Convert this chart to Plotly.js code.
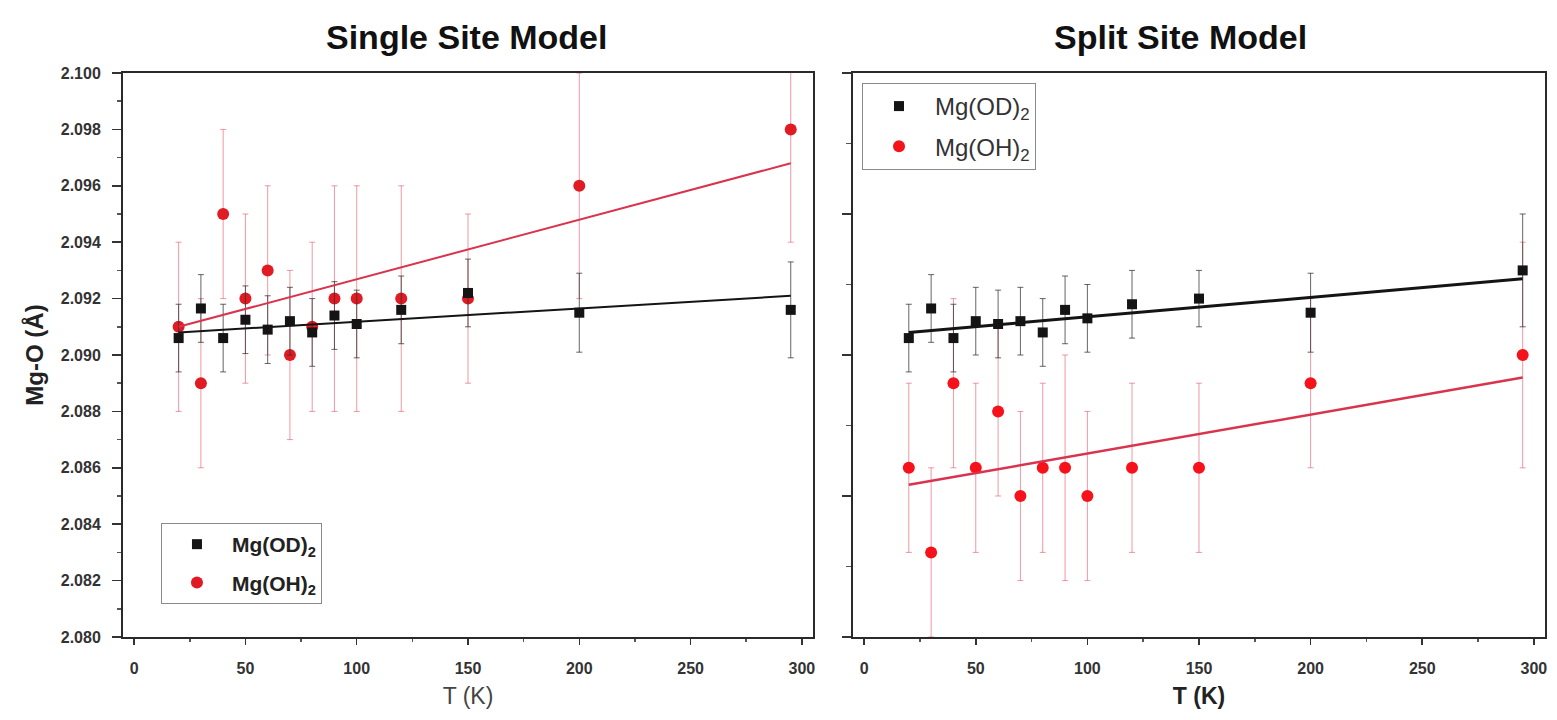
<!DOCTYPE html>
<html><head><meta charset="utf-8">
<script src="https://cdn.plot.ly/plotly-3.0.1.min.js"></script>
<style>html,body{margin:0;padding:0;background:#fff}</style>
</head><body><div id="chart" style="width:1557px;height:720px"></div>
<script>
// ---- data ----
const temperatureK = [20, 30, 40, 50, 60, 70, 80, 90, 100, 120, 150, 200, 295];

// Single Site Model
const singleOD    = [2.0906, 2.09165, 2.0906, 2.09125, 2.0909, 2.0912, 2.0908, 2.0914, 2.0911, 2.0916, 2.0922, 2.0915, 2.0916];
const singleODErr = [0.0012, 0.0012, 0.0012, 0.0012, 0.0012, 0.0012, 0.0012, 0.0012, 0.0012, 0.0012, 0.0012, 0.0014, 0.0017];
const singleOH    = [2.091, 2.089, 2.095, 2.092, 2.093, 2.090, 2.091, 2.092, 2.092, 2.092, 2.092, 2.096, 2.098];
const singleOHErr = [0.003, 0.003, 0.003, 0.003, 0.003, 0.003, 0.003, 0.004, 0.004, 0.004, 0.003, 0.004, 0.004];

// Split Site Model
const splitOD    = [2.0906, 2.09165, 2.0906, 2.0912, 2.0911, 2.0912, 2.0908, 2.0916, 2.0913, 2.0918, 2.0920, 2.0915, 2.0930];
const splitODErr = [0.0012, 0.0012, 0.0012, 0.0012, 0.0012, 0.0012, 0.0012, 0.0012, 0.0012, 0.0012, 0.0010, 0.0014, 0.0020];
const splitOH    = [2.086, 2.083, 2.089, 2.086, 2.088, 2.085, 2.086, 2.086, 2.085, 2.086, 2.086, 2.089, 2.090];
const splitOHErr = [0.003, 0.003, 0.003, 0.003, 0.003, 0.003, 0.003, 0.004, 0.003, 0.003, 0.003, 0.003, 0.004];

// Linear fits (end points)
const fitT          = [20, 295];
const singleODFit   = [2.0908, 2.0921];
const singleOHFit   = [2.0910, 2.0968];
const splitODFit    = [2.0908, 2.0927];
const splitOHFit    = [2.0854, 2.0892];

const xTickVals = [0, 50, 100, 150, 200, 250, 300];
const singleYTicks = [2.080, 2.082, 2.084, 2.086, 2.088, 2.090, 2.092, 2.094, 2.096, 2.098, 2.100];
const seriesNames = ['Mg(OD)<sub>2</sub>', 'Mg(OH)<sub>2</sub>'];
const panelTitles = ['Single Site Model', 'Split Site Model'];

// ---- styling ----
const FONT = 'Liberation Sans, Arial, sans-serif';
const BLACK = '#141414';
const RED_L = '#e01b24';
const RED_R = '#f5121b';
const RED_ERR = 'rgba(222,70,90,0.55)';
const BLK_ERR = 'rgba(50,50,50,0.75)';
const RED_FIT = '#d8344e';

function points(y, err, xa, ya, color, errColor, symbol, size, name, legend, group, rank) {
  return {
    type: 'scatter', mode: 'markers', x: temperatureK, y: y, xaxis: xa, yaxis: ya,
    name: name, legend: legend, legendgroup: group, legendrank: rank,
    marker: {symbol: symbol, size: size, color: color},
    error_y: {type: 'data', array: err, visible: true, color: errColor, thickness: 1, width: 3},
    hoverinfo: 'skip'
  };
}
function fit(y, xa, ya, color, w) {
  return {type: 'scatter', mode: 'lines', x: fitT, y: y, xaxis: xa, yaxis: ya,
    line: {color: color, width: w}, showlegend: false, hoverinfo: 'skip'};
}

const data = [
  points(singleOH, singleOHErr, 'x', 'y', RED_L, RED_ERR, 'circle', 12, seriesNames[1], 'legend', 'l2', 2),
  points(singleOD, singleODErr, 'x', 'y', BLACK, BLK_ERR, 'square', 10, seriesNames[0], 'legend', 'l1', 1),
  fit(singleODFit, 'x', 'y', BLACK, 2),
  fit(singleOHFit, 'x', 'y', RED_FIT, 2),
  points(splitOH, splitOHErr, 'x2', 'y2', RED_R, RED_ERR, 'circle', 12, seriesNames[1], 'legend2', 'r2', 2),
  points(splitOD, splitODErr, 'x2', 'y2', BLACK, BLK_ERR, 'square', 10, seriesNames[0], 'legend2', 'r1', 1),
  fit(splitODFit, 'x2', 'y2', BLACK, 3),
  fit(splitOHFit, 'x2', 'y2', RED_FIT, 2.5)
];

const tickFont = {family: FONT, size: 16, color: '#333', weight: 'bold'};
function xAxis(domain, anchor, bold) {
  return {
    domain: domain, anchor: anchor, range: [-5, 305], tickvals: xTickVals,
    ticks: 'outside', ticklen: 6, tickwidth: 1.5, tickcolor: '#333',
    minor: {dtick: 25, tick0: 0, ticks: 'outside', ticklen: 3, tickwidth: 1.5, tickcolor: '#555', showgrid: false},
    showline: true, mirror: true, linecolor: '#2a2a2a', linewidth: 2,
    showgrid: false, zeroline: false, tickfont: tickFont, ticklabelstandoff: 10,
    automargin: false,
    title: {text: 'T (K)', standoff: 12,
      font: {family: FONT, size: 23, color: bold ? '#222' : '#444', weight: bold ? 'bold' : 'normal'}}
  };
}

const layout = {
  width: 1557, height: 720,
  margin: {l: 123, r: 12, t: 73, b: 83},
  paper_bgcolor: '#fff', plot_bgcolor: '#fff',
  showlegend: true,
  xaxis: xAxis([0, 0.48523], 'y', false),
  xaxis2: xAxis([0.51336, 1], 'y2', true),
  yaxis: {
    domain: [0, 1], anchor: 'x', range: [2.080, 2.100], tickvals: singleYTicks, tickformat: '.3f',
    ticks: 'outside', ticklen: 9, tickwidth: 1.5, tickcolor: '#333',
    minor: {dtick: 0.001, tick0: 2.080, ticks: 'outside', ticklen: 4, tickwidth: 1.5, tickcolor: '#555', showgrid: false},
    showline: true, mirror: true, linecolor: '#2a2a2a', linewidth: 2,
    showgrid: false, zeroline: false, tickfont: tickFont, ticklabelstandoff: 8,
    automargin: false,
    title: {text: 'Mg-O (Å)', standoff: 10, font: {family: FONT, size: 24, color: '#222', weight: 'bold'}}
  },
  yaxis2: {
    domain: [0, 1], anchor: 'x2', range: [2.080, 2.100], dtick: 0.005, tick0: 2.080,
    showticklabels: false,
    ticks: 'outside', ticklen: 9, tickwidth: 1.5, tickcolor: '#333',
    minor: {dtick: 0.0025, tick0: 2.080, ticks: 'outside', ticklen: 5, tickwidth: 1.5, tickcolor: '#555', showgrid: false},
    showline: true, mirror: true, linecolor: '#2a2a2a', linewidth: 2,
    showgrid: false, zeroline: false, automargin: false
  },
  legend: {
    x: 0.0267, y: 0.2021, xanchor: 'left', yanchor: 'top', xref: 'paper', yref: 'paper',
    bgcolor: '#fff', bordercolor: '#8a8a8a', borderwidth: 1,
    font: {family: FONT, size: 21, color: '#222', weight: 'bold'},
    traceorder: 'grouped', tracegroupgap: 8, itemwidth: 60
  },
  legend2: {
    x: 0.5197, y: 0.9823, xanchor: 'left', yanchor: 'top', xref: 'paper', yref: 'paper',
    bgcolor: '#fff', bordercolor: '#8a8a8a', borderwidth: 1,
    font: {family: FONT, size: 24, color: '#333'},
    traceorder: 'grouped', tracegroupgap: 6, itemwidth: 62
  },
  annotations: [
    {text: panelTitles[0], xref: 'paper', yref: 'paper', x: 0.2419, y: 1.064, xanchor: 'center', yanchor: 'middle',
     showarrow: false, font: {family: FONT, size: 34, color: '#111', weight: 'bold'}},
    {text: panelTitles[1], xref: 'paper', yref: 'paper', x: 0.744, y: 1.064, xanchor: 'center', yanchor: 'middle',
     showarrow: false, font: {family: FONT, size: 34, color: '#111', weight: 'bold'}}
  ]
};

Plotly.newPlot('chart', data, layout, {staticPlot: true, displayModeBar: false});
</script></body></html>
